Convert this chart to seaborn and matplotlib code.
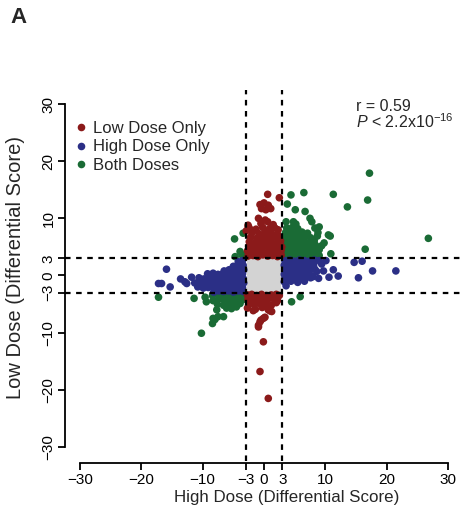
import matplotlib
matplotlib.use("Agg")
import matplotlib.pyplot as plt
from matplotlib.patches import Rectangle
import pandas as pd
import seaborn as sns

# differential scores (x = high dose, y = low dose)
low_x = [-2.6, -1.8, -1.0, -0.2, 0.6, 1.4, 2.2, 2.8,
         -2.7, -1.9, -1.1, -0.3, 0.5, 1.3, 2.1, 2.8,
         -2.5, -1.7, -0.9, -0.1, 0.7, 1.5, 2.3, 2.9,
         -2.4, -1.5, -0.6, 0.3, 1.2, 2.0, 2.7,
         -2.2, -1.2, -0.3, 0.6, 1.5, 2.4,
         -1.9, -0.8, 0.2, 1.2, 2.2,
         -2.4, -1.3, -0.2, 0.9, 2.3,
         -2.6, -0.5, 0.6, 1.5, -0.9, 0.2, 1.8, -2.55,
         0.6, 2.5, -0.65, 0.0, 0.7, 0.3, -0.4, 1.1, -2.9,
         -2.7, -2.0, -1.2, -0.4, 0.4, 1.2, 2.0, 2.5,
         -2.6, -1.8, -1.0, -0.2, 0.6, 1.4, 2.2,
         -2.5, -1.6, -0.7, 0.3, 1.2, 2.0,
         -2.7, -1.4, -0.3, 0.8,
         1.0, 1.25, -1.75, 0.7, 0.16, -0.1, -0.5, -0.65, -0.9, -0.9,
         -0.1, -0.65, 0.7]
low_y = [3.4, 3.5, 3.3, 3.6, 3.4, 3.5, 3.3, 3.6,
         4.3, 4.1, 4.4, 4.2, 4.0, 4.3, 4.1, 4.4,
         5.1, 4.9, 5.2, 5.0, 5.1, 4.8, 5.2, 5.0,
         5.9, 5.7, 6.0, 5.8, 5.9, 5.6, 6.0,
         6.7, 6.5, 6.8, 6.6, 6.7, 6.5,
         7.5, 7.3, 7.6, 7.4, 7.2,
         8.3, 8.1, 8.4, 8.2, 8.0,
         8.8, 9.1, 9.4, 8.9, 10.0, 9.7, 8.3, 8.5,
         14.2, 13.6, 12.4, 12.7, 12.3, 11.5, 11.7, 11.7, 7.8,
         -3.4, -3.3, -3.5, -3.3, -3.5, -3.4, -3.3, -3.5,
         -4.2, -4.3, -4.1, -4.3, -4.2, -4.0, -4.4,
         -5.0, -5.1, -4.9, -5.0, -5.2, -4.75,
         -5.7, -5.9, -5.6, -5.8,
         -6.2, -6.3, -6.15, -6.0, -7.3, -7.5, -7.8, -8.1, -8.7, -9.0,
         -11.6, -16.8, -21.5]

high_x = [3.4, 4.2, 5.0, 5.8, 6.6, 7.4, 8.2, 9.0,
          3.3, 4.1, 4.9, 5.7, 6.5, 7.3, 8.1, 9.4,
          3.5, 4.3, 5.1, 5.9, 6.7, 7.5, 8.3, 9.7,
          3.3, 4.1, 4.9, 5.7, 6.5, 7.3, 8.6, 8.0,
          3.4, 4.2, 5.0, 5.8, 6.6, 7.6, 8.9,
          3.3, 4.4, 5.5, 6.6, 3.6,
          14.7, 16.0, 17.7, 21.5, 15.4, 12.1, 11.3, 10.6, 10.1,
          -3.5, -4.2,
          -3.4, -4.2, -5.0,
          -3.3, -4.1, -4.9, -5.7, -6.5,
          -3.5, -4.3, -5.1, -5.9, -6.7, -7.5, -8.3, -9.2,
          -3.4, -4.2, -5.0, -5.8, -6.6, -7.4, -8.2, -9.0, -9.8, -10.6,
          -3.3, -4.1, -4.9, -5.7, -6.5, -7.3, -8.1, -8.9, -9.7, -10.5, -11.3,
          -3.5, -4.3, -5.1, -5.9, -6.7, -7.5, -8.3, -9.1, -9.9, -10.8,
          -3.4, -4.2, -5.0, -5.8, -6.6, -7.4, -8.2,
          -15.9, -17.2, -16.7, -15.3, -13.6, -12.9, -12.6, -11.8]
high_y = [2.6, 2.7, 2.5, 2.7, 2.6, 2.5, 2.7, 2.6,
          1.8, 1.9, 1.7, 1.9, 1.8, 1.7, 1.9, 2.0,
          1.0, 1.1, 0.9, 1.1, 1.0, 0.9, 1.1, 0.8,
          0.2, 0.3, 0.1, 0.3, 0.2, 0.1, 0.7, -0.2,
          -0.6, -0.5, -0.7, -0.5, -0.6, -0.4, -0.5,
          -1.1, -1.0, -1.2, -1.0, -1.8,
          2.3, 2.5, 0.8, 0.8, -0.4, -0.1, 1.0, -0.3, 2.6,
          2.6, 2.4,
          1.8, 1.9, 1.6,
          1.0, 1.1, 0.9, 1.0, 0.8,
          0.3, 0.4, 0.2, 0.4, 0.3, 0.2, 0.4, 0.3,
          -0.5, -0.4, -0.6, -0.4, -0.5, -0.6, -0.4, -0.5, -0.6, -0.4,
          -1.3, -1.2, -1.4, -1.2, -1.3, -1.4, -1.2, -1.3, -1.4, -1.2, -1.3,
          -2.1, -2.0, -2.2, -2.0, -2.1, -2.2, -2.0, -2.1, -2.2, -2.0,
          -2.8, -2.7, -2.9, -2.7, -2.8, -2.7, -2.9,
          1.1, -1.4, -1.4, -2.0, -0.6, -1.1, -1.4, -0.3]

both_x = [3.4, 4.2, 5.0, 5.8, 6.6, 7.4, 8.2, 9.0,
          3.3, 4.1, 4.9, 5.7, 6.5, 7.3, 8.1, 9.0,
          3.5, 4.3, 5.1, 5.9, 6.7, 7.5, 8.4, 9.4,
          3.4, 4.2, 5.0, 5.8, 6.6, 7.4, 8.2, 9.8,
          3.3, 4.1, 4.9, 5.7, 6.5, 7.6, 8.7, 10.8,
          3.5, 4.4, 5.3, 6.2, 7.1, 8.8,
          3.7, 4.6, 5.5, 8.3, 9.0,
          4.8, 5.2, 7.8, 3.6,
          17.2, 16.9, 13.6, 11.3, 6.5, 4.4, 3.8, 5.1, 6.7, 7.5,
          26.8, 16.5, 10.9, 10.5,
          -4.8, -3.4, -3.6, -4.7, -3.9,
          4.5, 5.9,
          -3.5, -4.3, -5.1, -5.9, -6.7, -7.5, -8.4, -9.6,
          -3.4, -4.2, -5.0, -5.8, -6.6, -7.4, -8.3, -9.4,
          -3.9, -4.8, -5.7, -6.6, -7.6,
          -4.5, -5.3, -6.1, -7.7,
          -17.2, -10.2, -11.4, -8.4, -8.0, -7.5, -6.6, -8.3]
both_y = [3.5, 3.6, 3.4, 3.6, 3.5, 3.4, 3.6, 3.5,
          4.3, 4.4, 4.2, 4.4, 4.3, 4.2, 4.4, 4.5,
          5.1, 5.2, 5.0, 5.2, 5.1, 5.0, 5.3, 5.2,
          5.9, 6.0, 5.8, 6.0, 5.9, 5.8, 6.1, 5.7,
          6.7, 6.8, 6.6, 6.8, 6.7, 6.6, 6.9, 6.9,
          7.5, 7.6, 7.4, 7.6, 7.4, 7.5,
          8.3, 8.4, 8.2, 8.3, 8.5,
          9.4, 9.0, 9.4, 9.4,
          17.9, 13.2, 12.0, 14.2, 14.5, 14.1, 12.5, 11.5, 11.2, 10.0,
          6.5, 4.6, 3.8, 7.1,
          6.4, 7.4, 3.6, 3.3, 4.2,
          -4.6, -3.7,
          -3.4, -3.5, -3.3, -3.5, -3.4, -3.3, -3.5, -3.8,
          -4.2, -4.3, -4.1, -4.3, -4.2, -4.1, -4.4, -4.6,
          -4.9, -5.1, -5.0, -5.2, -5.0,
          -5.5, -5.8, -5.7, -6.0,
          -3.8, -10.1, -4.0, -8.4, -7.7, -7.2, -7.2, -7.5]

groups = ["Low Dose Only", "High Dose Only", "Both Doses"]
colors = ["#8B1A1A", "#2B2F86", "#1A6B35"]
cutoff = 3
ns_box = [-2.8, 2.7, -3, 3]   # not significant block in the middle
ticks = [-30, -20, -10, -3, 0, 3, 10, 20, 30]

# green first, then blue, then red on top
df = pd.concat([
    pd.DataFrame({"high": both_x, "low": both_y, "group": groups[2]}),
    pd.DataFrame({"high": high_x, "low": high_y, "group": groups[1]}),
    pd.DataFrame({"high": low_x, "low": low_y, "group": groups[0]}),
], ignore_index=True)

sns.set_style("ticks")
plt.rcParams['font.family'] = ['Liberation Sans', 'DejaVu Sans']
plt.rcParams['mathtext.fontset'] = 'custom'
plt.rcParams['mathtext.rm'] = 'Liberation Sans'
plt.rcParams['mathtext.it'] = 'Liberation Sans:italic'
plt.rcParams['mathtext.bf'] = 'Liberation Sans:bold'

fig = plt.figure(figsize=(4.64, 5.18), dpi=100)
ax = fig.add_axes([0.1407, 0.1106, 0.8565, 0.7151])

ax.add_patch(Rectangle((ns_box[0], ns_box[2]), ns_box[1] - ns_box[0], ns_box[3] - ns_box[2],
                       facecolor="#D3D3D3", edgecolor="none", zorder=1))
sns.scatterplot(data=df, x="high", y="low", hue="group", hue_order=groups,
                palette=colors, s=30, linewidth=0, ax=ax, zorder=2)

for v in (-cutoff, cutoff):
    ax.axvline(v, color="black", lw=1.6, dashes=(2.5, 2.5), zorder=3)
    ax.axhline(v, color="black", lw=1.6, dashes=(2.5, 2.5), zorder=3)

ax.set_xlim(-32.4, 32.4)
ax.set_ylim(-32.4, 32.4)
ax.set_xticks(ticks)
ax.set_yticks(ticks)
ax.set_xticklabels([str(t).replace("-", "\u2212") for t in ticks])
ax.set_yticklabels([str(t).replace("-", "\u2212") for t in ticks], rotation=90, va="center")
ax.tick_params(length=5, width=1.3, labelsize=11, pad=2, colors="black")

for side in ["top", "right"]:
    ax.spines[side].set_visible(False)
for side in ["left", "bottom"]:
    ax.spines[side].set_bounds(-30, 30)
    ax.spines[side].set_linewidth(1.3)
    ax.spines[side].set_color("black")
ax.spines["bottom"].set_position(("outward", 2))

ax.set_xlabel("High Dose (Differential Score)", fontsize=12.2)
ax.set_ylabel("Low Dose (Differential Score)", fontsize=14.5)
ax.xaxis.set_label_coords(0.5566, -0.079)
ax.yaxis.set_label_coords(-0.1014, 0.522)

handles, labels = ax.get_legend_handles_labels()
ax.legend(handles, labels, loc="upper left", bbox_to_anchor=(0.0226, 0.917),
          frameon=False, borderpad=0, borderaxespad=0, handlelength=0.8,
          handletextpad=0.3, labelspacing=0.2, fontsize=12)

ax.text(0.7315, 0.944, "r = 0.59", transform=ax.transAxes, fontsize=11.5, va="baseline")
ax.text(0.7315, 0.8977, r"$\it{P}$ < 2.2x10$^{-16}$", transform=ax.transAxes,
        fontsize=11.5, va="baseline")

fig.text(0.0216, 0.9556, "A", fontsize=16, fontweight="bold", va="baseline")

fig.savefig("out.png", dpi=100)
